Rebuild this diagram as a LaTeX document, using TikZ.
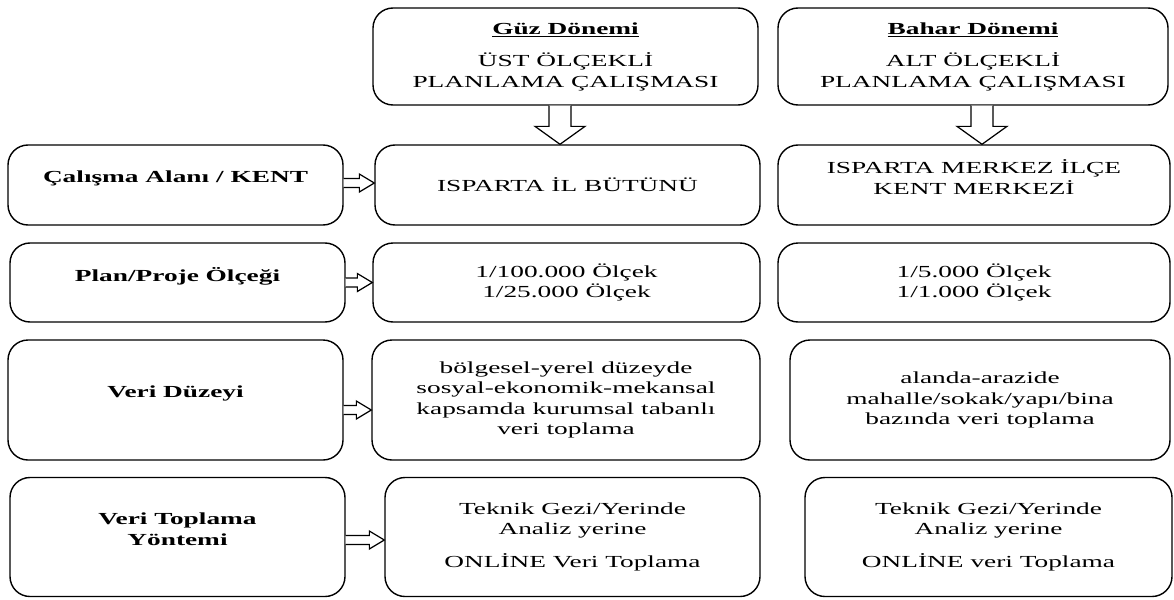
\documentclass[tikz,border=0pt]{standalone}
\usepackage{fontspec}
\setmainfont{Liberation Serif}[FakeStretch=1.62]
\usetikzlibrary{calc}

\tikzset{
  box/.style={draw, line width=0.8pt, rounded corners=0.4cm, align=center,
    font=\fontsize{9.6}{11.6}\selectfont, inner sep=2pt},
  headbox/.style={box, font=\fontsize{9.6}{11.6}\selectfont\bfseries},
  hollowarr/.style={draw, line width=0.7pt, fill=white}
}
% lifts the text of a box a little above its middle
\newcommand{\lift}{\\[-2.5pt]\mbox{}}

% hollow arrow to the right, from box #2 to box #3, shifted up by #1
\newcommand{\sidearrow}[3][0]{%
  \draw[hollowarr] let \p1=($(#2.east)+(0,#1)$), \p2=(#3.west) in
    (\x1,{\y1+2.55pt}) -- ({\x2-8.5pt},{\y1+2.55pt}) -- ({\x2-8.5pt},{\y1+5.1pt})
    -- (\x2,\y1) -- ({\x2-8.5pt},{\y1-5.1pt}) -- ({\x2-8.5pt},{\y1-2.55pt})
    -- (\x1,{\y1-2.55pt});}
% hollow arrow downwards, from box #2 to box #3, shifted right by #1
\newcommand{\topdownarrow}[3][0]{%
  \draw[hollowarr] let \p1=($(#2.south)+(#1,0)$), \p2=(#3.north) in
    ({\x1-6.24pt},\y1) -- ({\x1-6.24pt},{\y2+10.2pt}) -- ({\x1-14.2pt},{\y2+10.2pt})
    -- (\x1,\y2) -- ({\x1+14.2pt},{\y2+10.2pt}) -- ({\x1+6.24pt},{\y2+10.2pt})
    -- ({\x1+6.24pt},\y1);}

\begin{document}
\begin{tikzpicture}
\useasboundingbox (0,0) rectangle (23.48,-11.98);

% Semester headers
\node[box, minimum width=7.7cm, minimum height=1.94cm] (guz) at (11.31,-1.13)
  {\underline{\textbf{Güz Dönemi}}\\[7pt] ÜST ÖLÇEKLİ\\ PLANLAMA ÇALIŞMASI};
\node[box, minimum width=7.8cm, minimum height=1.94cm] (bahar) at (19.46,-1.13)
  {\underline{\textbf{Bahar Dönemi}}\\[7pt] ALT ÖLÇEKLİ\\ PLANLAMA ÇALIŞMASI};

% Row 1
\node[headbox, minimum width=6.7cm, minimum height=1.6cm] (kent) at (3.51,-3.7)
  {Çalışma Alanı / KENT\lift};
\node[box, minimum width=7.7cm, minimum height=1.6cm] (alanguz) at (11.35,-3.7)
  {ISPARTA İL BÜTÜNÜ};
\node[box, minimum width=7.84cm, minimum height=1.6cm] (alanbahar) at (19.48,-3.7)
  {ISPARTA MERKEZ İLÇE\\ KENT MERKEZİ\lift};

% Row 2
\node[headbox, minimum width=6.7cm, minimum height=1.58cm] (olcek) at (3.55,-5.65)
  {Plan/Proje Ölçeği\lift};
\node[box, minimum width=7.74cm, minimum height=1.58cm] (olcekguz) at (11.33,-5.65)
  {1/100.000 Ölçek\\ 1/25.000 Ölçek};
\node[box, minimum width=7.84cm, minimum height=1.58cm] (olcekbahar) at (19.48,-5.65)
  {1/5.000 Ölçek\\ 1/1.000 Ölçek};

% Row 3
\node[headbox, minimum width=6.7cm, minimum height=2.4cm] (duzey) at (3.51,-8.0)
  {Veri Düzeyi\lift};
\node[box, minimum width=7.76cm, minimum height=2.4cm] (duzeyguz) at (11.32,-8.0)
  {bölgesel-yerel düzeyde\\ sosyal-ekonomik-mekansal\\ kapsamda kurumsal tabanlı\\ veri toplama};
\node[box, minimum width=7.6cm, minimum height=2.4cm] (duzeybahar) at (19.6,-8.0)
  {alanda-arazide\\ mahalle/sokak/yapı/bina\\ bazında veri toplama};

% Row 4
\node[headbox, minimum width=6.7cm, minimum height=2.38cm] (yontem) at (3.55,-10.74)
  {Veri Toplama\\ Yöntemi\lift};
\node[box, minimum width=7.5cm, minimum height=2.38cm] (yontemguz) at (11.45,-10.74)
  {Teknik Gezi/Yerinde\\ Analiz yerine\\[7pt] ONLİNE Veri Toplama};
\node[box, minimum width=7.34cm, minimum height=2.38cm] (yontembahar) at (19.77,-10.74)
  {Teknik Gezi/Yerinde\\ Analiz yerine\\[7pt] ONLİNE veri Toplama};

% Arrows
\topdownarrow[-0.11cm]{guz}{alanguz}
\topdownarrow[0.18cm]{bahar}{alanbahar}
\sidearrow[0.04cm]{kent}{alanguz}
\sidearrow{olcek}{olcekguz}
\sidearrow[-0.2cm]{duzey}{duzeyguz}
\sidearrow[-0.06cm]{yontem}{yontemguz}
\end{tikzpicture}
\end{document}
